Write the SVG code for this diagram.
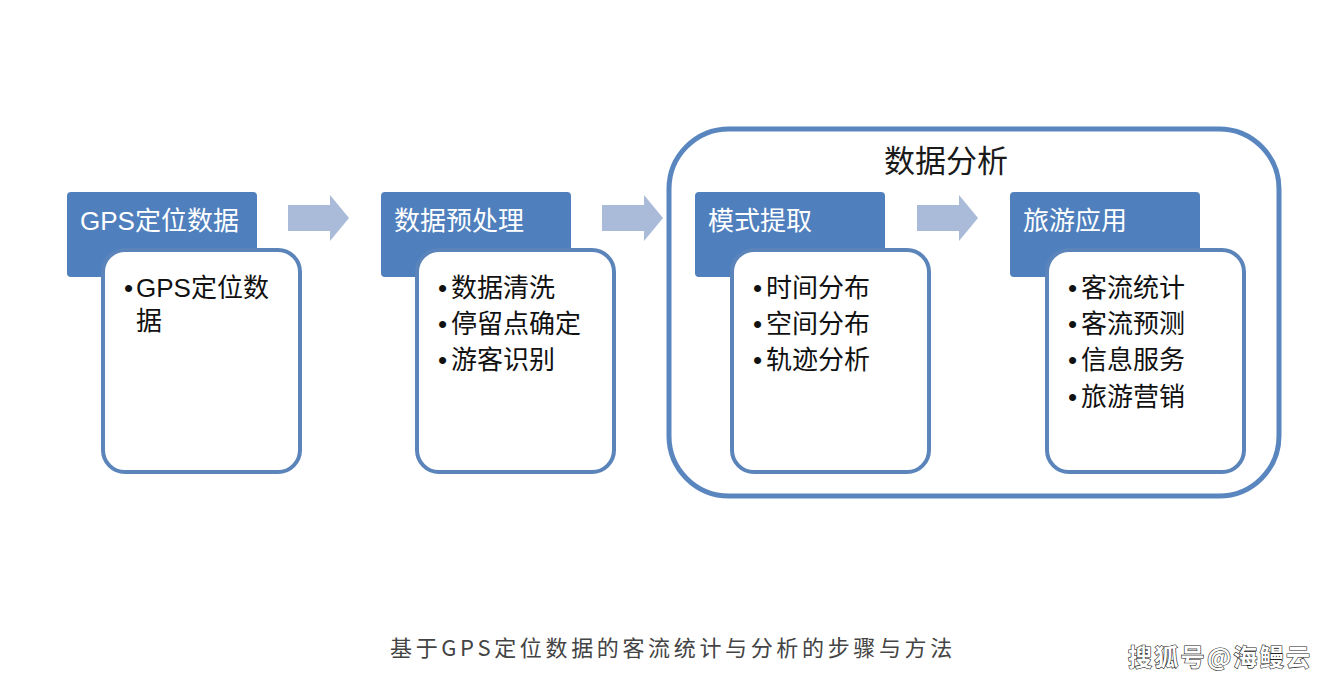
<svg xmlns="http://www.w3.org/2000/svg" width="1342" height="686" viewBox="0 0 1342 686">
<defs>
<style>
.hdr{fill:#4f7fbd}
.box{fill:#ffffff;stroke:#5a84ba;stroke-width:4}
.arrow{fill:#a9bbd9}
.ht{font-family:"Liberation Sans","Noto Sans CJK SC",sans-serif;font-size:26px;fill:#ffffff}
.ct{font-family:"Liberation Sans","Noto Sans CJK SC",sans-serif;font-size:26px;fill:#111111}
.title{font-family:"Noto Sans CJK SC",sans-serif;font-size:31px;fill:#1a1a1a}
.cap{font-family:"Noto Sans CJK SC",sans-serif;font-size:22px;fill:#444444;letter-spacing:3.65px}
.wm{font-family:"Noto Sans CJK SC",sans-serif;font-size:24px;font-weight:bold;fill:#ffffff;stroke:#222222;stroke-width:1.2px;paint-order:stroke;letter-spacing:2.3px}
</style>
</defs>
<rect width="1342" height="686" fill="#ffffff"/>

<g id="container-analysis">
<rect x="669" y="129" width="610" height="367" rx="60" ry="60" fill="none" stroke="#5a86bf" stroke-width="5"/>
<text class="title" x="884" y="172">数据分析</text>
</g>

<g id="connectors">
<path class="arrow" d="M288 205 H330 V195 L349 218 L330 241 V231 H288 Z"/>
<path class="arrow" d="M602 205 H644 V195 L663 218 L644 241 V231 H602 Z"/>
<path class="arrow" d="M917 205 H959 V195 L978 218 L959 241 V231 H917 Z"/>
</g>

<g id="node-gps">
<rect class="hdr" x="67" y="192" width="190" height="85" rx="4"/>
<text class="ht" x="80" y="230">GPS定位数据</text>
<rect class="box" x="103" y="250" width="197" height="222" rx="22"/>
<text class="ct" x="124" y="297"><tspan>•</tspan><tspan x="136">GPS定位数</tspan></text>
<text class="ct" x="136" y="330">据</text>
</g>

<g id="node-preprocess">
<rect class="hdr" x="381" y="192" width="190" height="85" rx="4"/>
<text class="ht" x="394" y="230">数据预处理</text>
<rect class="box" x="417" y="250" width="197" height="222" rx="22"/>
<text class="ct" x="438" y="297"><tspan>•</tspan><tspan x="451">数据清洗</tspan></text>
<text class="ct" x="438" y="333"><tspan>•</tspan><tspan x="451">停留点确定</tspan></text>
<text class="ct" x="438" y="369"><tspan>•</tspan><tspan x="451">游客识别</tspan></text>
</g>

<g id="node-pattern">
<rect class="hdr" x="695" y="192" width="190" height="85" rx="4"/>
<text class="ht" x="708" y="230">模式提取</text>
<rect class="box" x="732" y="250" width="197" height="222" rx="22"/>
<text class="ct" x="753" y="297"><tspan>•</tspan><tspan x="766">时间分布</tspan></text>
<text class="ct" x="753" y="333"><tspan>•</tspan><tspan x="766">空间分布</tspan></text>
<text class="ct" x="753" y="369"><tspan>•</tspan><tspan x="766">轨迹分析</tspan></text>
</g>

<g id="node-tourism">
<rect class="hdr" x="1010" y="192" width="190" height="85" rx="4"/>
<text class="ht" x="1023" y="230">旅游应用</text>
<rect class="box" x="1047" y="250" width="197" height="222" rx="22"/>
<text class="ct" x="1068" y="297"><tspan>•</tspan><tspan x="1081">客流统计</tspan></text>
<text class="ct" x="1068" y="333"><tspan>•</tspan><tspan x="1081">客流预测</tspan></text>
<text class="ct" x="1068" y="369"><tspan>•</tspan><tspan x="1081">信息服务</tspan></text>
<text class="ct" x="1068" y="406"><tspan>•</tspan><tspan x="1081">旅游营销</tspan></text>
</g>

<text class="cap" x="390" y="656">基于GPS定位数据的客流统计与分析的步骤与方法</text>
<text class="wm" x="1128" y="666">搜狐号@海鳗云</text>
</svg>
